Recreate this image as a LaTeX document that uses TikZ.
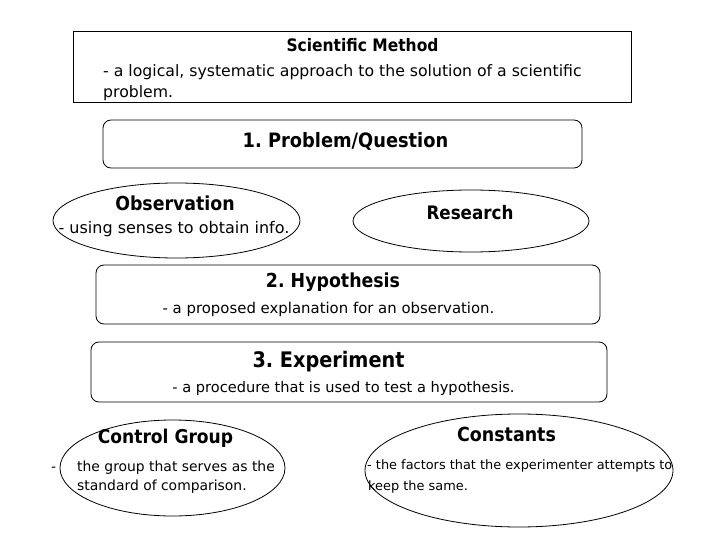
\documentclass[tikz,border=0pt]{standalone}
\usepackage{fontspec}
\setmainfont{DejaVu Sans}[BoldFeatures={FakeStretch=0.9}]
\usetikzlibrary{shapes.geometric}
\newcommand{\fsz}[1]{\fontsize{#1}{#1}\selectfont}
\tikzset{
  frame/.style={draw=black, line width=0.8pt, inner sep=0pt},
  sqbox/.style={frame},
  roundbox/.style={frame, rounded corners=8pt},
  oval/.style={frame, ellipse},
  txtc/.style={inner sep=0pt, anchor=base},
  txtl/.style={inner sep=0pt, anchor=base west},
}
\frenchspacing
\begin{document}
\begin{tikzpicture}[x=1pt, y=-1pt]
\path[fill=white] (0,0) rectangle (720,540);
\useasboundingbox (0,0) rectangle (720,540);

% top box
\node[sqbox, minimum width=558pt, minimum height=71pt] (top) at (352,66.5) {};
\node[txtc] (topT) at (362.5,52) {\fsz{17.2}\bfseries Scientific Method};
\node[txtl] (topA) at (103,77) {\fsz{15.7}- a logical, systematic approach to the solution of a scientific};
\node[txtl] (topB) at (103,97.5) {\fsz{15.7}problem.};

% 1. Problem
\node[roundbox, minimum width=479pt, minimum height=48pt] (q) at (342.5,144) {};
\node[txtc] (qT) at (345.5,148) {\fsz{19.8}\bfseries 1. Problem/Question};

% Observation
\node[oval, minimum width=247pt, minimum height=75pt] (obs) at (176.5,220.5) {};
\node[txtc] (obsT) at (175,211) {\fsz{19.3}\bfseries Observation};
\node[txtc] (obsB) at (174,233.5) {\fsz{16}- using senses to obtain info.};

% Research
\node[oval, minimum width=236pt, minimum height=62pt] (res) at (471,221) {};
\node[txtc] (resT) at (470,219.3) {\fsz{18.6}\bfseries Research};

% 2. Hypothesis
\node[roundbox, minimum width=504pt, minimum height=59pt] (hyp) at (348,294.5) {};
\node[txtc] (hypT) at (333,287.5) {\fsz{19.3}\bfseries 2. Hypothesis};
\node[txtc] (hypB) at (328.5,313.5) {\fsz{14.9}- a proposed explanation for an observation.};

% 3. Experiment
\node[roundbox, minimum width=516pt, minimum height=60pt] (exp) at (349,372) {};
\node[txtc] (expT) at (328.5,367.5) {\fsz{21.4}\bfseries 3. Experiment};
\node[txtc] (expB) at (343.5,392.5) {\fsz{14.6}- a procedure that is used to test a hypothesis.};

% Control Group
\node[oval, minimum width=225pt, minimum height=96pt] (ctl) at (172.5,468) {};
\node[txtc] (ctlT) at (165.5,443.3) {\fsz{19}\bfseries Control Group};
\node[txtl] (ctlA) at (51,471.5) {\fsz{13.9}\makebox[26pt][l]{-}the group that serves as the};
\node[txtl] (ctlB) at (77,490) {\fsz{13.9}standard of comparison.};

% Constants
\node[oval, minimum width=308pt, minimum height=113pt] (cst) at (519,470.5) {};
\node[txtc] (cstT) at (506.5,441.7) {\fsz{19.4}\bfseries Constants};
\node[txtl] (cstA) at (367,469.3) {\fsz{12.9}- the factors that the experimenter attempts to};
\node[txtl] (cstB) at (368,490) {\fsz{12.9}keep the same.};
\end{tikzpicture}
\end{document}
